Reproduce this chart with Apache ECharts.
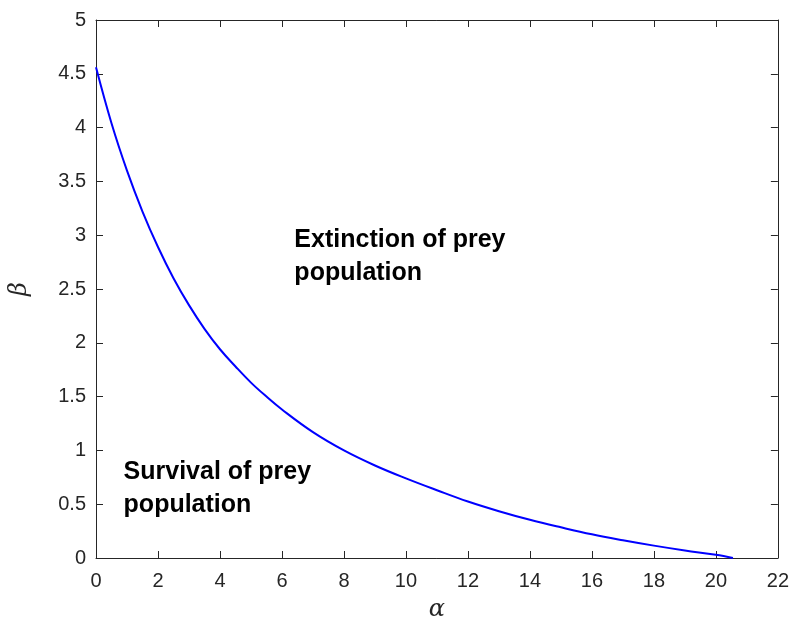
<!DOCTYPE html>
<html>
<head>
<meta charset="utf-8">
<script src="https://cdn.jsdelivr.net/npm/echarts@6/dist/echarts.min.js"></script>
<style>
  html, body { margin: 0; padding: 0; background: #fff; }
  #main { width: 792px; height: 627px; }
</style>
</head>
<body>
<div id="main"></div>
<script>
// alpha / beta values
const alphaVals = [0, 0.5, 1, 1.5, 2, 2.5, 3, 3.5, 4, 4.5, 5, 5.5, 6, 7, 8, 9, 10, 11, 12, 13, 14, 15, 16, 17, 18, 19, 20, 20.55];
const betaVals = [4.56, 4.04, 3.60, 3.22, 2.89, 2.60, 2.35, 2.13, 1.94, 1.78, 1.63, 1.50, 1.38, 1.17, 1.0, 0.86, 0.74, 0.63, 0.525, 0.435, 0.355, 0.285, 0.22, 0.165, 0.115, 0.07, 0.03, 0];

const xTicks = { min: 0, max: 22, interval: 2 };
const yTicks = { min: 0, max: 5, interval: 0.5 };

// region labels, anchored in data coordinates
const regionLabels = [
    { text: 'Extinction of prey\npopulation', at: [6.4, 3.07] },
    { text: 'Survival of prey\npopulation', at: [0.89, 0.91] }
];

const axisColor = '#262626';
const chart = echarts.init(document.getElementById('main'));

const axisCommon = {
    type: 'value',
    axisLine: { show: true, onZero: false, lineStyle: { color: axisColor, width: 1 } },
    axisTick: { show: true, inside: true, length: 7, lineStyle: { color: axisColor } },
    splitLine: { show: false }
};

chart.setOption({
    backgroundColor: '#fff',
    animation: false,
    grid: { left: 85, right: 12, top: 20, bottom: 58, containLabel: false },
    xAxis: [
        Object.assign({}, axisCommon, {
            min: xTicks.min, max: xTicks.max, interval: xTicks.interval,
            position: 'bottom',
            name: 'α',
            nameLocation: 'middle',
            nameGap: 40,
            nameTextStyle: { fontFamily: 'DejaVu Serif', fontStyle: 'italic', fontSize: 24, color: axisColor },
            axisLabel: { margin: 13, fontSize: 20, fontFamily: 'Liberation Sans', color: axisColor }
        }),
        Object.assign({}, axisCommon, {
            min: xTicks.min, max: xTicks.max, interval: xTicks.interval,
            position: 'top',
            axisLabel: { show: false }
        })
    ],
    yAxis: [
        Object.assign({}, axisCommon, {
            min: yTicks.min, max: yTicks.max, interval: yTicks.interval,
            position: 'left',
            name: 'β',
            nameLocation: 'middle',
            nameGap: 64,
            nameRotate: 90,
            nameTextStyle: { fontFamily: 'DejaVu Serif', fontStyle: 'italic', fontSize: 24, color: axisColor },
            axisLabel: { margin: 10, fontSize: 20, fontFamily: 'Liberation Sans', color: axisColor }
        }),
        Object.assign({}, axisCommon, {
            min: yTicks.min, max: yTicks.max, interval: yTicks.interval,
            position: 'right',
            axisLabel: { show: false }
        })
    ],
    series: [{
        type: 'line',
        data: alphaVals.map((a, i) => [a, betaVals[i]]),
        smooth: 0.4,
        symbol: 'none',
        lineStyle: { color: '#0000ff', width: 2 },
        clip: false
    }]
});

// place the region labels through the chart's own scales
chart.setOption({
    graphic: regionLabels.map(r => {
        const p = chart.convertToPixel({ xAxisIndex: 0, yAxisIndex: 0 }, r.at);
        return {
            type: 'text',
            x: p[0],
            y: p[1] - 4,
            style: {
                text: r.text,
                font: 'bold 25px "Liberation Sans"',
                fill: '#000',
                lineHeight: 33
            }
        };
    })
});
</script>
</body>
</html>
